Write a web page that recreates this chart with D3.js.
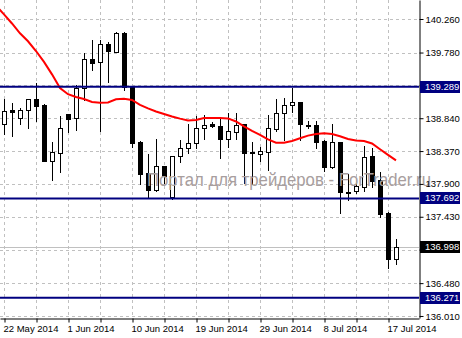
<!DOCTYPE html>
<html><head><meta charset="utf-8">
<script src="https://cdn.jsdelivr.net/npm/d3@7"></script>
<style>
body{margin:0;background:#fff;}
svg{display:block;font-family:"Liberation Sans",Arial,sans-serif;}
</style>
</head><body>
<svg id="chart" width="462" height="338"></svg>
<script>
// ---- data ----
const dates = ["2014-05-22","2014-05-23","2014-05-25","2014-05-26","2014-05-27","2014-05-28","2014-05-29","2014-05-30",
"2014-06-01","2014-06-02","2014-06-03","2014-06-04","2014-06-05","2014-06-06","2014-06-08","2014-06-09","2014-06-10",
"2014-06-11","2014-06-12","2014-06-13","2014-06-15","2014-06-16","2014-06-17","2014-06-18","2014-06-19","2014-06-20",
"2014-06-22","2014-06-23","2014-06-24","2014-06-25","2014-06-26","2014-06-27","2014-06-29","2014-06-30","2014-07-01",
"2014-07-02","2014-07-03","2014-07-04","2014-07-06","2014-07-07","2014-07-08","2014-07-09","2014-07-10","2014-07-11",
"2014-07-13","2014-07-14","2014-07-15","2014-07-16","2014-07-17","2014-07-18"];
const open  = [138.762,138.958,138.839,138.954,139.116,139.025,138.233,138.347,138.901,138.839,
               139.269,139.684,139.641,139.902,139.792,140.056,139.287,138.505,138.057,137.807,
               138.157,137.714,138.296,138.407,138.486,138.696,138.762,138.729,138.539,138.648,
               138.758,138.357,138.322,138.362,138.686,138.911,139.025,139.068,138.744,138.744,
               138.519,138.147,138.500,137.789,137.799,137.861,138.296,137.957,137.480,136.822];
const high  = [139.116,139.058,138.987,139.111,139.344,139.040,138.500,138.872,138.905,139.312,
               139.769,139.960,139.960,139.931,140.070,140.070,139.290,138.508,138.329,138.539,
               138.160,138.303,138.529,138.762,138.872,138.891,138.779,138.844,138.915,138.911,
               138.760,138.493,138.433,138.887,139.116,139.126,139.277,139.071,138.805,138.801,
               138.522,138.754,138.503,138.038,137.910,138.443,138.410,138.067,137.503,137.108];
const low   = [138.615,138.591,138.762,138.705,138.805,138.230,137.957,138.071,138.644,138.672,
               139.101,139.531,138.658,139.363,139.790,139.244,138.433,137.900,137.706,137.804,
               137.910,137.685,138.214,138.343,138.410,138.536,138.711,138.267,138.433,138.546,
               137.910,137.900,138.221,138.093,138.658,138.529,138.934,138.529,138.696,138.419,
               138.090,138.124,137.480,137.671,137.766,137.804,137.861,137.432,136.694,136.755];
const close = [138.944,138.934,138.958,139.111,139.020,138.233,138.353,138.701,138.834,139.273,
               139.684,139.635,139.902,139.798,140.056,139.283,138.490,138.043,137.814,138.157,
               138.007,138.300,138.410,138.486,138.696,138.741,138.729,138.539,138.651,138.741,
               138.339,138.339,138.372,138.696,138.911,139.030,139.068,138.754,138.734,138.505,
               138.147,138.500,137.789,137.781,137.871,138.282,137.947,137.470,136.822,136.998];
// moving average, first value belongs to the bar before 22 May (index -1)
const maStart = -1;
const ma = [140.452,140.326,140.196,140.056,139.941,139.802,139.646,139.468,139.273,139.184,139.144,
            139.116,139.073,139.063,139.066,139.111,139.118,139.101,139.030,138.980,138.937,
            138.901,138.865,138.834,138.808,138.815,138.844,138.844,138.844,138.837,138.794,
            138.724,138.658,138.601,138.536,138.490,138.490,138.515,138.553,138.591,138.615,
            138.625,138.615,138.582,138.544,138.522,138.515,138.479,138.396,138.315,138.236];
const priceTicks = [140.260,139.780,139.310,138.840,138.370,137.900,137.430,136.960,136.480,136.010];
const levels = [139.289,137.692,136.271];
const lastPrice = 136.998;
const watermark = "Портал для трейдеров - ForTrader.ru";

// ---- layout ----
const W = 462, H = 338;
const plotRight = 419, plotBottom = 318;
const parse = d3.timeParse("%Y-%m-%d");
const fmtDate = d3.timeFormat("%-d %b %Y");

const x = d3.scaleLinear().domain([-0.5, 51.875]).range([0, plotRight]);
const y = d3.scaleLinear().domain([135.981, 140.532]).range([plotBottom, 0]);

const svg = d3.select("#chart");
svg.append("rect").attr("width", W).attr("height", H).attr("fill", "#fff");

const clip = svg.append("defs").append("clipPath").attr("id", "plot")
  .append("rect").attr("x", 0).attr("y", 0).attr("width", plotRight).attr("height", plotBottom);

const plot = svg.append("g").attr("clip-path", "url(#plot)");

const vIdx = d3.range(0, dates.length, 4);
const snap = v => Math.round(v) + 0.5;

// grid
plot.selectAll("line.hg").data(priceTicks).join("line")
  .attr("x1", 0).attr("x2", plotRight)
  .attr("y1", d => snap(y(d))).attr("y2", d => snap(y(d)))
  .attr("stroke", "#c0c0c0").attr("stroke-dasharray", "3,3");
plot.selectAll("line.vg").data(vIdx).join("line")
  .attr("x1", d => snap(x(d))).attr("x2", d => snap(x(d)))
  .attr("y1", 0).attr("y2", plotBottom)
  .attr("stroke", "#c0c0c0").attr("stroke-dasharray", "3,3");

// last price line
plot.append("line").attr("x1", 0).attr("x2", plotRight)
  .attr("y1", snap(y(lastPrice))).attr("y2", snap(y(lastPrice)))
  .attr("stroke", "#c0c0c0");

// candles
const bars = d3.range(dates.length);
plot.selectAll("line.wick").data(bars).join("line")
  .attr("x1", i => snap(x(i))).attr("x2", i => snap(x(i)))
  .attr("y1", i => Math.round(y(high[i]))).attr("y2", i => Math.round(y(low[i])) + 1)
  .attr("stroke", "#000");
plot.selectAll("rect.body").data(bars).join("rect")
  .attr("x", i => Math.round(x(i)) - 2 + 0.5)
  .attr("width", 4)
  .attr("y", i => Math.round(y(Math.max(open[i], close[i]))) + 0.5)
  .attr("height", i => Math.max(1, Math.round(y(Math.min(open[i], close[i]))) - Math.round(y(Math.max(open[i], close[i])))))
  .attr("fill", i => close[i] >= open[i] ? "#fff" : "#000")
  .attr("stroke", "#000");

// MA
plot.append("path")
  .datum(ma)
  .attr("d", d3.line().x((d, k) => x(k + maStart)).y(d => y(d)))
  .attr("fill", "none").attr("stroke", "#ff0000").attr("stroke-width", 2);

// horizontal levels
plot.selectAll("line.lvl").data(levels).join("line")
  .attr("x1", 0).attr("x2", plotRight)
  .attr("y1", d => y(d)).attr("y2", d => y(d))
  .attr("stroke", "#000080").attr("stroke-width", 2);

// watermark
svg.append("text").attr("x", 147).attr("y", 186)
  .attr("font-size", 19).attr("fill", "#a89e9e")
  .attr("textLength", 284).attr("lengthAdjust", "spacingAndGlyphs")
  .text(watermark);

// axes
const yAxis = d3.axisRight(y).tickValues(priceTicks).tickFormat(d3.format(".3f"))
  .tickSize(4).tickSizeOuter(0).tickPadding(2);
const ya = svg.append("g").attr("transform", `translate(${plotRight + 0.5},0)`).call(yAxis);
ya.selectAll("text").attr("font-size", 9.5).attr("font-family", "Liberation Sans, Arial, sans-serif").attr("fill", "#000");
ya.selectAll("line,path").attr("stroke", "#000");

const xAxis = d3.axisBottom(x).tickValues(vIdx)
  .tickFormat(i => i % 8 === 0 ? fmtDate(parse(dates[i])) : "")
  .tickSize(4).tickSizeOuter(0).tickPadding(3);
const xa = svg.append("g").attr("transform", `translate(0,${plotBottom + 0.5})`).call(xAxis);
xa.selectAll("text").attr("font-size", 9.5).attr("font-family", "Liberation Sans, Arial, sans-serif")
  .attr("text-anchor", "start").attr("dx", -1).attr("fill", "#000");
xa.selectAll("line,path").attr("stroke", "#000");
xa.selectAll(".tick line").attr("transform", "translate(0.5,0)");

// highlighted price labels
function tag(v, bg) {
  const g = svg.append("g").attr("transform", `translate(420,${Math.round(y(v))})`);
  g.append("rect").attr("x", 0).attr("y", -6).attr("width", 40).attr("height", 12).attr("fill", bg);
  g.append("text").attr("x", 5).attr("dy", "0.35em").attr("font-size", 9.5).attr("fill", "#fff").text(d3.format(".3f")(v));
}
levels.forEach(v => tag(v, "#000080"));
tag(lastPrice, "#000");
</script>
</body></html>
